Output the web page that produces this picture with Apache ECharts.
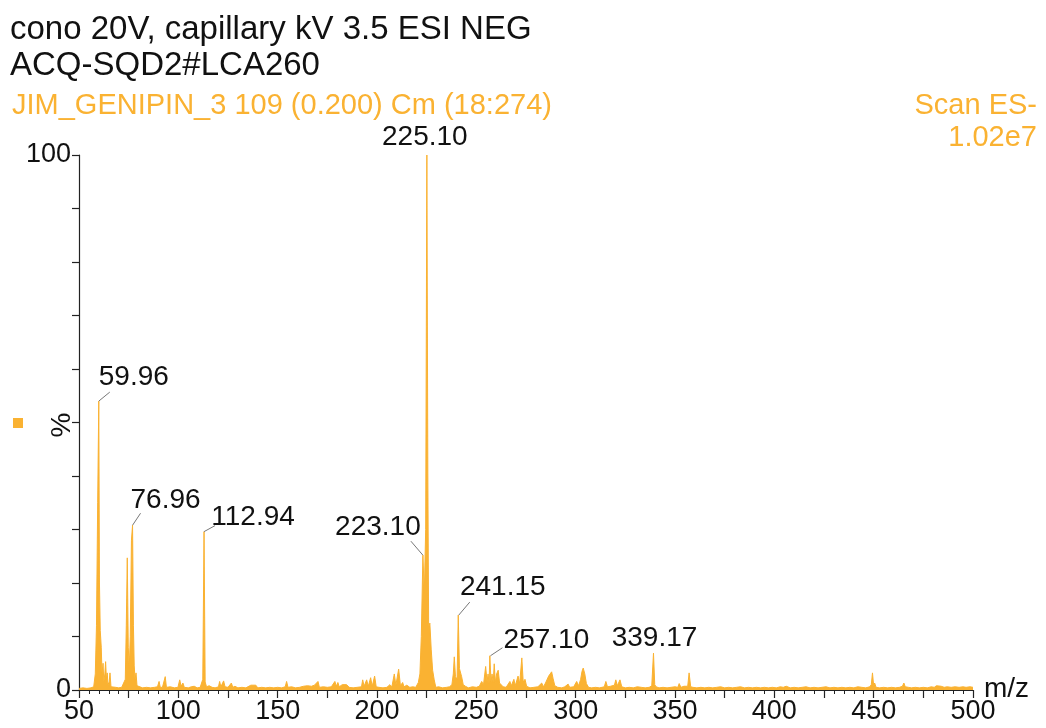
<!DOCTYPE html>
<html>
<head>
<meta charset="utf-8">
<script src="https://cdn.jsdelivr.net/npm/echarts@6/dist/echarts.min.js"></script>
<style>
  html, body { margin: 0; padding: 0; background: #fff; }
  #chart { width: 1046px; height: 728px; }
</style>
</head>
<body>
<div id="chart"></div>
<script>
// spectrum profile: [m/z, % intensity]
const spectrum = [
  [50, 0.3], [52, 0.4], [54, 0.3], [56, 0.4], [57.4, 0.6], [58.2, 3], [58.8, 12], [59.4, 35], [59.96, 54],
  [60.3, 20], [60.7, 11.1], [61.2, 8], [61.6, 3], [62.1, 5], [62.5, 1.5], [63, 3], [63.4, 5.3], [63.8, 2],
  [64.2, 3.2], [64.6, 1], [65.2, 1.5], [65.6, 3.2], [66.1, 0.6], [67, 0.4], [68.5, 0.5], [70, 0.4], [71.5, 0.5],
  [72.5, 0.6], [73.3, 2], [73.8, 12], [74.3, 24.7], [74.8, 8], [75.3, 4], [75.8, 10], [76.4, 28], [76.96, 30.8],
  [77.4, 12], [77.8, 4.5], [78.2, 2], [78.7, 3.2], [79.2, 0.8], [80, 0.5], [82, 0.4], [84, 0.5], [86, 0.4],
  [88, 0.5], [89.5, 0.6], [90.3, 1.6], [90.9, 0.5], [92, 0.5], [92.8, 0.8], [93.4, 2.5], [94, 0.5], [96, 0.6],
  [98, 0.4], [99.8, 0.5], [100.7, 1.9], [101.4, 0.7], [102.3, 1.3], [103, 0.5], [104, 0.8], [105, 0.4],
  [106.5, 0.6], [108, 0.7], [109.5, 0.4], [111, 0.5], [112.3, 2], [112.94, 29.6], [113.5, 1.5], [114.2, 0.6],
  [115.5, 0.8], [117, 0.5], [118.5, 0.4], [120.2, 0.6], [120.8, 1.6], [121.4, 0.6], [122.8, 1.7], [123.5, 0.6],
  [125, 0.5], [126.7, 1.3], [127.4, 0.5], [128.5, 0.7], [130, 0.4], [132, 0.5], [134, 0.4], [136.5, 0.9],
  [137.5, 0.6], [139, 0.9], [140, 0.4], [142, 0.5], [144, 0.4], [146, 0.5], [148, 0.4], [150, 0.5], [152, 0.4],
  [153.8, 0.6], [154.5, 1.6], [155.2, 0.5], [157, 0.6], [159, 0.4], [161, 0.5], [163, 0.7], [165, 0.8],
  [167, 0.7], [168.5, 0.9], [170.3, 1.6], [171, 0.5], [173, 0.6], [175, 0.5], [177, 0.6], [178.8, 1.6],
  [179.5, 0.7], [180.3, 1.4], [181, 0.6], [182.5, 1.0], [184.7, 1.0], [186, 0.5], [188, 0.4], [190, 0.5],
  [192.2, 0.6], [192.8, 1.9], [193.5, 0.7], [194.8, 1.9], [195.6, 0.7], [196.8, 2.3], [197.6, 0.7], [198.8, 2.6],
  [199.6, 0.6], [201, 0.5], [203, 0.4], [205, 0.5], [206.5, 1.0], [207.5, 0.6], [208.7, 3.0], [209.5, 0.9],
  [210.9, 3.9], [211.8, 0.8], [212.9, 1.4], [213.6, 0.6], [215, 0.9], [216.5, 0.5], [218, 0.6], [219.5, 0.5],
  [220.8, 1.4], [221.6, 3], [222.3, 10], [223.1, 25.2], [223.8, 18], [224.5, 30], [225.1, 100], [225.6, 40],
  [226, 11.8], [226.6, 12.5], [227.3, 7.5], [228, 3.7], [228.8, 1.9], [229.6, 0.5], [231, 0.6], [233, 0.4],
  [235, 0.5], [236.5, 0.6], [237.7, 1.0], [238.4, 3], [238.9, 6.2], [239.5, 2.5], [240.3, 2], [240.9, 14],
  [241.5, 4], [242.6, 2.5], [243.4, 1], [244.5, 0.7], [246, 0.4], [248, 0.6], [250, 0.5], [251.5, 0.7],
  [252.7, 1.6], [253.6, 1], [254.7, 4.4], [255.4, 1.5], [255.9, 3], [256.4, 1.2], [256.8, 6.4], [257.4, 1.5],
  [257.9, 3], [258.5, 1.4], [259, 4.9], [259.6, 1.4], [260.2, 3], [261, 3.7], [261.7, 1.3], [262.7, 1.3],
  [263.5, 0.6], [265, 0.5], [266.9, 1.6], [267.6, 0.8], [268.9, 2], [269.6, 0.8], [271, 2.6], [271.8, 1.2],
  [272.9, 6], [273.6, 1.5], [274.5, 2], [275.3, 0.7], [277, 0.4], [279, 0.5], [281, 0.6], [282.9, 1.3],
  [283.8, 0.6], [284.8, 1.3], [285.7, 1], [286.4, 2.6], [287, 2.8], [287.9, 3.4], [288.6, 2.2], [289.5, 0.8],
  [291, 0.5], [293, 0.4], [294.5, 0.6], [296.2, 1.1], [297, 0.5], [299, 0.6], [300.5, 1.6], [301.5, 0.8],
  [302.5, 2], [303.2, 3.5], [303.8, 4.1], [304.6, 3], [305.4, 1.2], [306.5, 0.5], [308, 0.4], [310, 0.5],
  [312, 0.4], [314.4, 0.6], [315.2, 1.6], [316, 0.6], [317.5, 0.7], [318.5, 1.0], [319.5, 0.9], [320.2, 1.9],
  [321, 0.8], [322.3, 1.9], [323.2, 0.6], [325, 0.4], [327, 0.5], [329, 0.4], [331, 0.6], [333, 0.5],
  [335, 0.4], [337, 0.5], [338.3, 0.8], [339.17, 6.9], [339.8, 1], [340.5, 0.6], [342, 0.4], [344, 0.5],
  [346, 0.4], [348, 0.5], [350, 0.6], [351.4, 0.5], [352.1, 1.2], [353, 0.5], [354.5, 0.7], [355.5, 1.0],
  [356.4, 0.7], [357.1, 3.2], [357.9, 0.6], [359, 0.5], [361, 0.4], [363, 0.5], [365, 0.4], [367, 0.5],
  [369, 0.4], [371, 0.5], [373, 0.6], [375, 0.4], [377, 0.5], [379, 0.4], [381, 0.5], [383, 0.6], [385, 0.4],
  [387, 0.5], [389, 0.4], [391, 0.5], [393, 0.4], [395, 0.5], [397, 0.4], [399, 0.5], [401, 0.4], [403, 0.6],
  [403.6, 0.9], [404.5, 0.5], [406, 0.7], [408, 0.4], [410, 0.5], [412, 0.4], [414, 0.5], [416, 0.6],
  [418, 0.4], [420, 0.5], [422, 0.4], [424, 0.5], [426, 0.6], [428, 0.4], [430, 0.5], [432, 0.4], [434, 0.5],
  [436, 0.4], [438, 0.5], [440, 0.4], [442, 0.6], [444, 0.5], [446, 0.4], [448, 0.6], [448.8, 1.0],
  [449.4, 3.2], [450, 0.8], [450.5, 1.3], [451.2, 0.5], [453, 0.4], [455, 0.5], [457, 0.4], [459, 0.5],
  [461, 0.4], [463, 0.5], [464.5, 0.7], [465.2, 1.3], [465.9, 0.6], [466.7, 0.9], [467.5, 0.5], [469, 0.4],
  [471, 0.5], [473, 0.4], [475, 0.5], [477, 0.4], [479, 0.6], [480.5, 0.5], [481.6, 0.8], [482.5, 0.6],
  [484, 0.7], [485.5, 0.5], [487, 0.6], [489, 0.5], [491, 0.6], [493, 0.5], [495, 0.6], [496.5, 0.5],
  [497.4, 0.8], [498.5, 0.6], [500, 0.5]
]

// labelled peaks
const peakMz = [59.96, 76.96, 112.94, 223.10, 225.10, 241.15, 257.10, 339.17]
const peakPct = [54, 30.8, 29.6, 25.2, 100, 14, 6.4, 6.9]

const xTickLabels = [50, 100, 150, 200, 250, 300, 350, 400, 450, 500]
const yTickLabels = [0, 100]

const ORANGE = '#FAB232'
const FONT = '"Liberation Sans", Arial, sans-serif'

// label placement relative to peak top (text centre, leader line end)
const labelOffsets = [
  { tx: 35, ty: -24, lx: 11, ly: -9 },
  { tx: 33, ty: -25, lx: 8, ly: -12 },
  { tx: 49, ty: -14, lx: 11, ly: -6 },
  { tx: -45, ty: -28, lx: -12, ly: -14 },
  { tx: -2, ty: -18 },
  { tx: 44, ty: -28, lx: 11, ly: -13 },
  { tx: 56, ty: -15, lx: 12, ly: -8 },
  { tx: 1, ty: -15 }
]

const chart = echarts.init(document.getElementById('chart'))

const option = {
  animation: false,
  grid: { left: 79, right: 73, top: 155, bottom: 38, outerBoundsMode: 'none', containLabel: false },
  graphic: [
    { type: 'text', x: 10, y: 30, style: { text: 'cono 20V, capillary kV 3.5 ESI NEG', font: '33px ' + FONT, fill: '#111', verticalAlign: 'middle' } },
    { type: 'text', x: 10, y: 66, style: { text: 'ACQ-SQD2#LCA260', font: '33px ' + FONT, fill: '#111', verticalAlign: 'middle' } },
    { type: 'text', x: 12, y: 106, style: { text: 'JIM_GENIPIN_3 109 (0.200) Cm (18:274)', font: '29px ' + FONT, fill: ORANGE, verticalAlign: 'middle' } },
    { type: 'text', x: 1037, y: 106, style: { text: 'Scan ES-', font: '29px ' + FONT, fill: ORANGE, align: 'right', verticalAlign: 'middle' } },
    { type: 'text', x: 1037, y: 138, style: { text: '1.02e7', font: '29px ' + FONT, fill: ORANGE, align: 'right', verticalAlign: 'middle' } },
    { type: 'rect', shape: { x: 13, y: 418, width: 10, height: 10 }, style: { fill: ORANGE } },
    // axis titles
    { type: 'text', x: 62, y: 425, rotation: Math.PI / 2, style: { text: '%', font: '28px ' + FONT, fill: '#111', align: 'center', verticalAlign: 'middle' } },
    { type: 'text', x: 984, y: 689, style: { text: 'm/z', font: '28px ' + FONT, fill: '#111', align: 'left', verticalAlign: 'middle' } }
  ],
  xAxis: {
    type: 'value',
    min: 50,
    max: 500,
    interval: 25,
    axisLine: { lineStyle: { color: '#222', width: 1.2 } },
    axisTick: { length: 8, lineStyle: { color: '#222', width: 1.2 } },
    minorTick: { show: true, splitNumber: 5, length: 4, lineStyle: { color: '#222', width: 1 } },
    splitLine: { show: false },
    axisLabel: {
      fontSize: 27,
      fontFamily: FONT,
      color: '#111',
      margin: 8,
      formatter: v => (xTickLabels.includes(v) ? String(v) : '')
    }
  },
  yAxis: {
    type: 'value',
    min: 0,
    max: 100,
    interval: 10,
    axisLine: { show: true, lineStyle: { color: '#222', width: 1.2 } },
    axisTick: { show: true, length: 7, lineStyle: { color: '#222', width: 1.2 } },
    splitLine: { show: false },
    axisLabel: {
      fontSize: 27,
      fontFamily: FONT,
      color: '#111',
      margin: 8,
      formatter: v => (yTickLabels.includes(v) ? String(v) : '')
    }
  },
  series: [
    {
      type: 'line',
      data: spectrum,
      symbol: 'none',
      sampling: null,
      lineStyle: { color: ORANGE, width: 1 },
      areaStyle: { color: ORANGE, opacity: 1 },
      z: 2
    },
    {
      type: 'custom',
      data: peakMz.map((m, i) => [m, peakPct[i]]),
      z: 5,
      renderItem: (params, api) => {
        const i = params.dataIndex
        const p = api.coord([api.value(0), api.value(1)])
        const o = labelOffsets[i]
        const children = []
        if (o.lx !== undefined) {
          children.push({
            type: 'line',
            shape: { x1: p[0], y1: p[1], x2: p[0] + o.lx, y2: p[1] + o.ly },
            style: { stroke: '#777', lineWidth: 1 }
          })
        }
        children.push({
          type: 'text',
          style: {
            text: peakMz[i].toFixed(2),
            x: p[0] + o.tx,
            y: p[1] + o.ty,
            align: 'center',
            verticalAlign: 'middle',
            font: '28px ' + FONT,
            fill: '#111'
          }
        })
        return { type: 'group', children }
      }
    }
  ]
}

chart.setOption(option)
</script>
</body>
</html>
